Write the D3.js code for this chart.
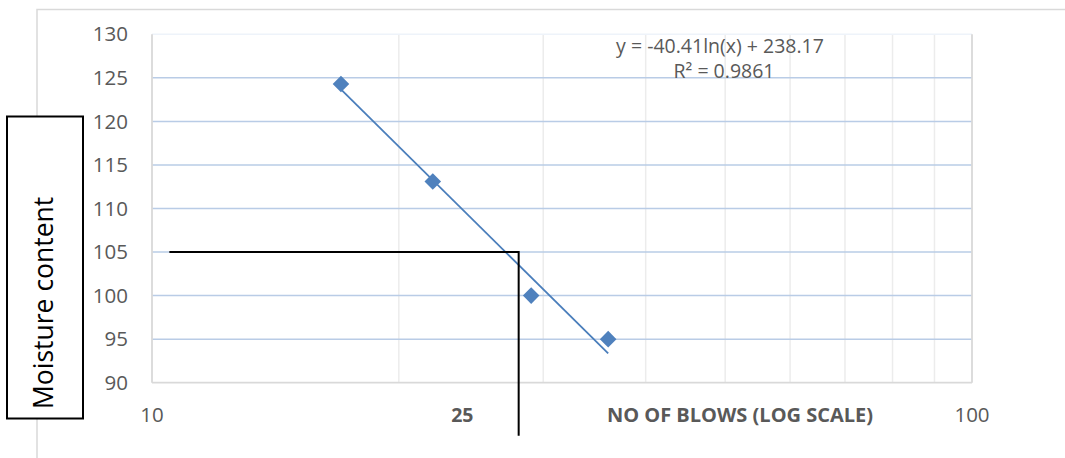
<!DOCTYPE html>
<html>
<head>
<meta charset="utf-8">
<script src="https://cdn.jsdelivr.net/npm/d3@7"></script>
<style>
  body { margin: 0; background: #fff; }
  svg { display: block; font-family: "Open Sans", "Noto Sans", sans-serif; }
</style>
</head>
<body>
<svg id="chart" width="1065" height="458"></svg>
<script>
// data
var blows = [17, 22, 29, 36];
var moisture = [124.3, 113.1, 100, 95];
var yTicks = [90, 95, 100, 105, 110, 115, 120, 125, 130];
var xGrid = [10, 20, 30, 40, 50, 60, 70, 80, 90, 100];
var xTickLabels = [10, 100];
// trendline shown on chart: y = a ln(x) + b
var trendA = -40.41;
var trendB = 238.17;
var trendText = ["y = -40.41ln(x) + 238.17", "R² = 0.9861"];
// hand drawn guide lines (blows, moisture)
var guideBlows = [10.5, 28, 28];
var guideMoisture = [105, 105, 83.9];

var svg = d3.select("#chart");

var plotL = 152, plotR = 972, plotT = 34.3, plotB = 382.7;

var xScale = d3.scaleLog()
    .domain([10, 100])
    .range([plotL, plotR]);

var yScale = d3.scaleLinear()
    .domain([90, 130])
    .range([plotB, plotT]);

// chart area border
svg.append("path")
    .attr("d", "M37,458 V9.5 H1065")
    .attr("fill", "none")
    .attr("stroke", "#d9d9d9")
    .attr("stroke-width", 1.5);

// vertical grid (log minor)
svg.append("g")
  .selectAll("line")
  .data(xGrid.slice(1, -1))
  .enter().append("line")
    .attr("x1", function(d) { return xScale(d); })
    .attr("x2", function(d) { return xScale(d); })
    .attr("y1", plotT)
    .attr("y2", plotB)
    .attr("stroke", "#ececec")
    .attr("stroke-width", 1.5);

// horizontal grid
svg.append("g")
  .selectAll("line")
  .data(yTicks.slice(1))
  .enter().append("line")
    .attr("x1", plotL)
    .attr("x2", plotR)
    .attr("y1", function(d) { return yScale(d); })
    .attr("y2", function(d) { return yScale(d); })
    .attr("stroke", function(d) { return d == 130 ? "#eef3fa" : "#b9cce6"; })
    .attr("stroke-width", 1.5);

// plot area border (left, bottom, right)
svg.append("line")
    .attr("x1", plotL).attr("x2", plotL)
    .attr("y1", plotT).attr("y2", plotB)
    .attr("stroke", "#d9d9d9").attr("stroke-width", 1.8);
svg.append("line")
    .attr("x1", plotL).attr("x2", plotR)
    .attr("y1", plotB).attr("y2", plotB)
    .attr("stroke", "#d9d9d9").attr("stroke-width", 1.8);
svg.append("line")
    .attr("x1", plotR).attr("x2", plotR)
    .attr("y1", plotT).attr("y2", plotB)
    .attr("stroke", "#d9d9d9").attr("stroke-width", 1.8);

// y tick labels
svg.append("g")
  .selectAll("text")
  .data(yTicks)
  .enter().append("text")
    .attr("x", plotL - 24)
    .attr("y", function(d) { return yScale(d); })
    .attr("dy", "0.35em")
    .attr("text-anchor", "end")
    .attr("font-size", 20.5)
    .attr("fill", "#595959")
    .text(function(d) { return d; });

// x tick labels
svg.append("g")
  .selectAll("text")
  .data(xTickLabels)
  .enter().append("text")
    .attr("x", function(d) { return xScale(d); })
    .attr("y", 415)
    .attr("dy", "0.35em")
    .attr("text-anchor", "middle")
    .attr("font-size", 20.5)
    .attr("fill", "#595959")
    .text(function(d) { return d; });

// hand placed labels under the axis
svg.append("text")
    .attr("x", xScale(23.9))
    .attr("y", 415)
    .attr("dy", "0.35em")
    .attr("text-anchor", "middle")
    .attr("font-size", 19.5)
    .attr("font-weight", "bold")
    .attr("fill", "#595959")
    .text("25");

svg.append("text")
    .attr("x", 740)
    .attr("y", 415)
    .attr("dy", "0.35em")
    .attr("text-anchor", "middle")
    .attr("font-size", 20)
    .attr("font-weight", "bold")
    .attr("fill", "#595959")
    .text("NO OF BLOWS (LOG SCALE)");

// trendline
var xExt = d3.extent(blows);
var line = d3.line()
    .x(function(d) { return xScale(d); })
    .y(function(d) { return yScale(trendA * Math.log(d) + trendB); });

svg.append("path")
    .datum(xExt)
    .attr("d", line)
    .attr("fill", "none")
    .attr("stroke", "#4a7ebb")
    .attr("stroke-width", 1.8);

// markers
var dataset = blows.map(function(b, i) { return { x: b, y: moisture[i] }; });
svg.selectAll(".dot")
    .data(dataset)
  .enter().append("path")
    .attr("class", "dot")
    .attr("d", d3.symbol().type(d3.symbolDiamond2).size(175))
    .attr("transform", function(d) { return "translate(" + xScale(d.x) + "," + yScale(d.y) + ")"; })
    .attr("fill", "#4f81bd");

// trendline equation
svg.append("text")
    .attr("x", 720)
    .attr("y", 46)
    .attr("dy", "0.35em")
    .attr("text-anchor", "middle")
    .attr("font-size", 19.5)
    .attr("fill", "#595959")
    .text(trendText[0]);
svg.append("text")
    .attr("x", 724)
    .attr("y", 71)
    .attr("dy", "0.35em")
    .attr("text-anchor", "middle")
    .attr("font-size", 19.5)
    .attr("fill", "#595959")
    .text(trendText[1]);

// guide lines
var guide = d3.line()
    .x(function(d) { return xScale(d[0]); })
    .y(function(d) { return yScale(d[1]); });
svg.append("path")
    .datum(guideBlows.map(function(b, i) { return [b, guideMoisture[i]]; }))
    .attr("d", guide)
    .attr("fill", "none")
    .attr("stroke", "#000")
    .attr("stroke-width", 2);

// y axis title box
svg.append("rect")
    .attr("x", 7)
    .attr("y", 116.5)
    .attr("width", 76)
    .attr("height", 302)
    .attr("fill", "#fff")
    .attr("stroke", "#000")
    .attr("stroke-width", 2);

svg.append("text")
    .attr("transform", "translate(53,409) rotate(-90)")
    .attr("text-anchor", "start")
    .attr("font-size", 26.5)
    .attr("fill", "#000")
    .text("Moisture content");
</script>
</body>
</html>
